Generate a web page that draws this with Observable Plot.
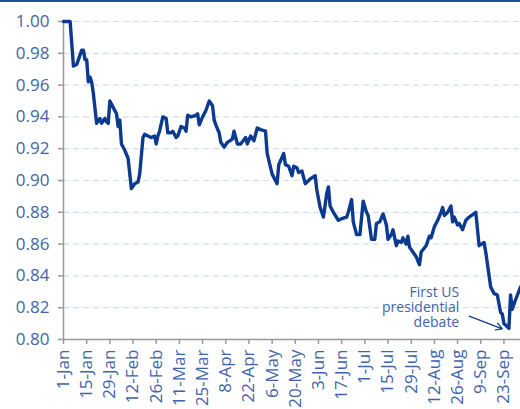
<!DOCTYPE html>
<html>
<head>
<meta charset="utf-8">
<script src="https://cdn.jsdelivr.net/npm/d3@7"></script>
<script src="https://cdn.jsdelivr.net/npm/@observablehq/plot@0.6"></script>
<style>
  html, body { margin: 0; padding: 0; background: #fff; }
  #wrap { position: relative; width: 520px; height: 409px; overflow: hidden; }
  #topline { position: absolute; left: 0; top: 0; width: 520px; height: 2px; background: #1F4E9A; }
</style>
</head>
<body>
<div id="wrap"><div id="topline"></div></div>
<script>
const dates = [
  "2016-01-01","2016-01-05","2016-01-07","2016-01-09","2016-01-12","2016-01-13","2016-01-14","2016-01-15","2016-01-16","2016-01-17",
  "2016-01-18","2016-01-19","2016-01-21","2016-01-23","2016-01-24","2016-01-26","2016-01-27","2016-01-28","2016-01-29","2016-01-31",
  "2016-02-02","2016-02-03","2016-02-04","2016-02-05","2016-02-07","2016-02-09","2016-02-11","2016-02-13","2016-02-15","2016-02-16",
  "2016-02-18","2016-02-19","2016-02-21","2016-02-23","2016-02-25","2016-02-26","2016-02-27","2016-02-28","2016-03-01","2016-03-03",
  "2016-03-04","2016-03-06","2016-03-07","2016-03-09","2016-03-10","2016-03-12","2016-03-14","2016-03-15","2016-03-16","2016-03-18",
  "2016-03-21","2016-03-22","2016-03-23","2016-03-25","2016-03-27","2016-03-28","2016-03-29","2016-03-31","2016-04-01","2016-04-02",
  "2016-04-04","2016-04-05","2016-04-07","2016-04-09","2016-04-12","2016-04-13","2016-04-15","2016-04-17","2016-04-20","2016-04-21",
  "2016-04-23","2016-04-25","2016-04-27","2016-04-29","2016-05-02","2016-05-03","2016-05-06","2016-05-09","2016-05-10","2016-05-13",
  "2016-05-14","2016-05-16","2016-05-18","2016-05-19","2016-05-21","2016-05-22","2016-05-24","2016-05-26","2016-05-29","2016-06-01",
  "2016-06-02","2016-06-04","2016-06-06","2016-06-08","2016-06-09","2016-06-10","2016-06-12","2016-06-15","2016-06-17","2016-06-20",
  "2016-06-21","2016-06-23","2016-06-24","2016-06-26","2016-06-28","2016-06-30","2016-07-02","2016-07-03","2016-07-05","2016-07-07",
  "2016-07-08","2016-07-10","2016-07-12","2016-07-14","2016-07-15","2016-07-17","2016-07-18","2016-07-20","2016-07-21","2016-07-23",
  "2016-07-24","2016-07-26","2016-07-27","2016-07-28","2016-07-30","2016-08-01","2016-08-03","2016-08-04","2016-08-07","2016-08-09",
  "2016-08-10","2016-08-12","2016-08-14","2016-08-16","2016-08-17","2016-08-18","2016-08-20","2016-08-22","2016-08-23","2016-08-24",
  "2016-08-26","2016-08-27","2016-08-29","2016-08-31","2016-09-02","2016-09-06","2016-09-08","2016-09-11","2016-09-12","2016-09-15",
  "2016-09-17","2016-09-19","2016-09-21","2016-09-22","2016-09-23","2016-09-26","2016-09-27","2016-09-28","2016-09-30","2016-10-03"
];
const values = [
  1.000,1.000,0.972,0.973,0.982,0.982,0.976,0.976,0.962,0.965,
  0.962,0.955,0.936,0.939,0.936,0.939,0.937,0.936,0.950,0.946,
  0.942,0.934,0.938,0.923,0.919,0.914,0.895,0.898,0.899,0.904,
  0.927,0.929,0.928,0.927,0.928,0.923,0.928,0.931,0.940,0.939,
  0.930,0.930,0.931,0.927,0.928,0.934,0.933,0.931,0.941,0.940,
  0.941,0.942,0.935,0.940,0.944,0.947,0.950,0.947,0.938,0.935,
  0.930,0.924,0.921,0.924,0.926,0.931,0.923,0.923,0.927,0.923,
  0.928,0.925,0.933,0.932,0.931,0.917,0.904,0.898,0.910,0.917,
  0.910,0.909,0.903,0.909,0.908,0.905,0.906,0.898,0.901,0.903,
  0.894,0.883,0.877,0.892,0.896,0.884,0.880,0.875,0.876,0.877,
  0.880,0.888,0.874,0.866,0.866,0.887,0.880,0.878,0.863,0.863,
  0.873,0.874,0.879,0.872,0.863,0.866,0.869,0.859,0.862,0.861,
  0.864,0.860,0.865,0.858,0.855,0.852,0.847,0.855,0.859,0.865,
  0.864,0.871,0.875,0.880,0.883,0.878,0.880,0.884,0.874,0.877,
  0.872,0.873,0.869,0.875,0.877,0.880,0.859,0.861,0.855,0.833,
  0.829,0.828,0.817,0.816,0.810,0.807,0.828,0.819,0.825,0.833
];
const yTicks = [0.80, 0.82, 0.84, 0.86, 0.88, 0.90, 0.92, 0.94, 0.96, 0.98, 1.00];
const xTickLabels = ["1-Jan","15-Jan","29-Jan","12-Feb","26-Feb","11-Mar","25-Mar","8-Apr","22-Apr","6-May",
  "20-May","3-Jun","17-Jun","1-Jul","15-Jul","29-Jul","12-Aug","26-Aug","9-Sep","23-Sep"];
const annotationText = "First US\npresidential\ndebate";

const parse = d3.utcParse("%Y-%m-%d");
const data = dates.map((d, i) => ({date: parse(d), value: values[i]}));
const start = parse("2016-01-01");
const xTicks = xTickLabels.map((_, i) => d3.utcDay.offset(start, 14 * i));
const fmt = d3.utcFormat("%-d-%b");

const lineColor = "#0B3A8E";
const axisGray = "#999999";

const chart = Plot.plot({
  width: 520,
  height: 409,
  marginLeft: 63,
  marginRight: 0,
  marginTop: 21,
  marginBottom: 70,
  style: {fontFamily: "'Open Sans', sans-serif", fontSize: "17px", color: "#4263A9", background: "transparent", overflow: "visible"},
  x: {type: "utc", domain: [start, parse("2016-10-03")], ticks: xTicks},
  y: {domain: [0.80, 1.00], ticks: yTicks},
  marks: [
    Plot.gridY(yTicks, {stroke: "#D3DDEF", strokeOpacity: 1, strokeDasharray: "6,4", strokeWidth: 1.2}),
    Plot.ruleX([start], {stroke: axisGray, strokeWidth: 1.5}),
    Plot.ruleY([0.80], {stroke: axisGray, strokeWidth: 1.5}),
    Plot.axisY(yTicks, {tickSize: 5, tickPadding: 9, stroke: axisGray, strokeWidth: 1.5, tickFormat: d3.format(".2f"), label: null}),
    Plot.axisX(xTicks, {tickSize: 5, tickPadding: 5, tickRotate: -90, stroke: axisGray, strokeWidth: 1.5, tickFormat: (d, i) => xTickLabels[i] ?? fmt(d), label: null}),
    Plot.line(data, {x: "date", y: "value", stroke: lineColor, strokeWidth: 3.4, strokeLinejoin: "round", strokeLinecap: "round"}),
    Plot.text([annotationText], {x: () => parse("2016-08-27"), y: () => 0.8205, text: d => d, textAnchor: "end", lineAnchor: "middle", lineHeight: 1.08, fontSize: 14, fill: "#4263A9"}),
    Plot.arrow([0], {x1: () => parse("2016-09-02"), y1: () => 0.8147, x2: () => parse("2016-09-22"), y2: () => 0.8067, stroke: lineColor, strokeWidth: 1.2, headLength: 9, bend: 0})
  ]
});
document.getElementById("wrap").appendChild(chart);
</script>
</body>
</html>
